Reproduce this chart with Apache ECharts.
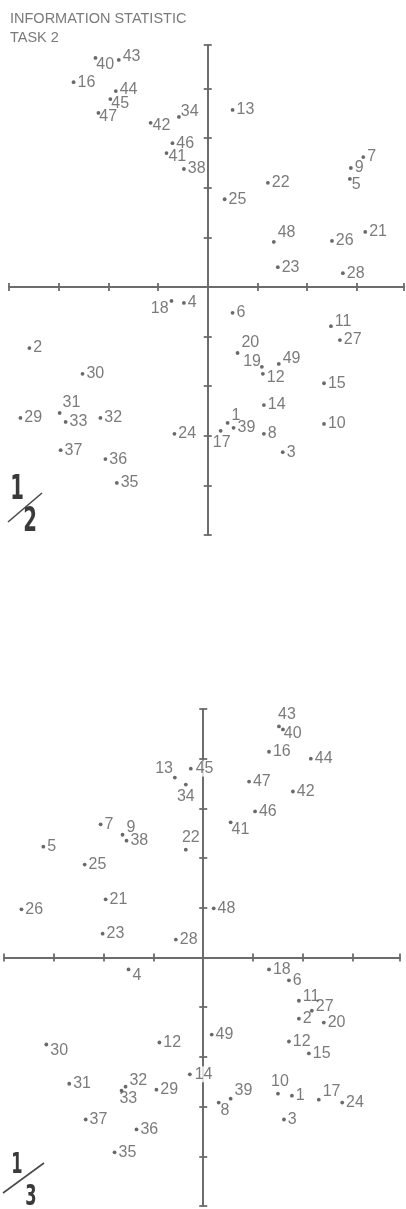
<!DOCTYPE html>
<html><head><meta charset="utf-8">
<script src="https://cdn.jsdelivr.net/npm/echarts@6/dist/echarts.min.js"></script>
<style>html,body{margin:0;padding:0;background:#fff;}#c{width:406px;height:1209px;}</style>
</head><body><div id="c"></div>
<script>
// ---------- DATA ----------
const titleLines = ['INFORMATION STATISTIC', 'TASK 2'];
const panelNames = ['1/2', '1/3'];

const p1Labels = ['1','2','3','4','5','6','7','8','9','10','11','12','13','14','15','16','17','18','19','20','21','22','23','24','25','26','27','28','29','30','31','32','33','34','35','36','37','38','39','40','41','42','43','44','45','46','47','48','49'];
const p1X = [0.40,-3.59,1.51,-0.48,2.86,0.50,3.13,1.13,2.88,2.34,2.48,1.11,0.50,1.13,2.34,-2.70,0.26,-0.73,1.09,0.60,3.17,1.21,1.41,-0.67,0.34,2.50,2.66,2.72,-3.77,-2.52,-2.98,-2.16,-2.86,-0.58,-1.83,-2.06,-2.96,-0.48,0.52,-2.26,-0.83,-1.15,-1.79,-1.85,-1.96,-0.71,-2.20,1.33,1.43];
const p1Y = [-2.74,-1.23,-3.33,-0.32,2.18,-0.52,2.62,-2.96,2.40,-2.76,-0.79,-1.75,3.57,-2.38,-1.94,4.13,-2.90,-0.28,-1.61,-1.33,1.11,2.10,0.40,-2.96,1.77,0.93,-1.07,0.28,-2.64,-1.75,-2.54,-2.64,-2.72,3.43,-3.95,-3.47,-3.29,2.38,-2.84,4.62,2.70,3.31,4.58,3.95,3.79,2.90,3.51,0.91,-1.55];

const p2Labels = ['1','2','3','4','5','6','7','8','9','10','11','12','12','13','14','15','16','17','18','20','21','22','23','24','25','26','27','28','29','30','31','32','33','34','35','36','37','38','39','40','41','42','43','44','45','46','47','48','49'];
const p2X = [1.78,1.92,1.62,-1.50,-3.21,1.72,-2.06,0.31,-1.62,1.50,1.92,-0.88,1.72,-0.57,-0.27,2.12,1.32,2.32,1.32,2.42,-1.96,-0.35,-2.02,2.79,-2.38,-3.65,2.18,-0.55,-0.94,-3.15,-2.69,-1.56,-1.64,-0.35,-1.78,-1.34,-2.36,-1.54,0.55,1.60,0.55,1.80,1.52,2.16,-0.25,1.04,0.92,0.21,0.17];
const p2Y = [-2.78,-1.23,-3.26,-0.24,2.23,-0.46,2.68,-2.92,2.47,-2.74,-0.87,-1.71,-1.69,3.62,-2.35,-1.93,4.14,-2.86,-0.24,-1.31,1.17,2.17,0.48,-2.92,1.87,0.97,-1.07,0.36,-2.66,-1.75,-2.54,-2.60,-2.68,3.48,-3.92,-3.46,-3.26,2.35,-2.84,4.59,2.72,3.34,4.65,4.00,3.80,2.94,3.54,0.99,-1.55];

const xRange = [-4, 3.95];
const y1Range = [-5, 4.88];
const y2Range = [-5, 5];

// ---------- STYLE (label placement tweaks) ----------
const p1Place = {
  '40':{dx:-3,dy:7}, '43':{dy:-3}, '44':{dy:-2}, '45':{dx:-3,dy:5}, '47':{dx:-3,dy:4},
  '42':{dx:-2,dy:3}, '34':{dx:-2,dy:-5}, '41':{dx:-2,dy:3}, '5':{dx:-2,dy:6},
  '48':{dy:-9}, '18':{pos:'left',dx:1,dy:8}, '31':{dx:-1,dy:-10}, '20':{dy:-10},
  '19':{pos:'left',dx:3,dy:-5}, '49':{dy:-5}, '12':{dy:4}, '11':{dy:-5}, '1':{dy:-7},
  '17':{pos:'bottom',dx:1,dy:0}
};
const p2Place = {
  '43':{pos:'top',dx:8,dy:0}, '40':{dx:-3,dy:4}, '13':{pos:'left',dx:2,dy:-9},
  '34':{pos:'bottom',dx:0,dy:0}, '41':{dx:-3,dy:7}, '9':{dy:-7}, '22':{pos:'top',dx:5,dy:0},
  '4':{dy:6}, '11':{dy:-4}, '27':{dy:-4}, '30':{dy:6}, '32':{dy:-6}, '33':{dx:-6,dy:8},
  '39':{dy:-8}, '8':{dx:-2,dy:8}, '10':{pos:'top',dx:2,dy:0}, '17':{dy:-8},
  '45':{bg:true}, '14':{bg:true}
};

const FONT = "'Liberation Sans', Arial, sans-serif";
const TXT = '#5a5a5a';
const AX = '#6c6c6c';

function buildData(labels, xs, ys, place) {
  return labels.map((l, i) => {
    const s = place[l] || {};
    const label = {
      show: true, formatter: l, position: s.pos || 'right', distance: 2,
      offset: [s.dx || 0, s.dy || 0]
    };
    if (s.bg) { label.backgroundColor = '#fff'; label.padding = [0, 1]; }
    return { value: [xs[i], ys[i]], label: label };
  });
}

function axesFor(gi, yr) {
  const ls = { color: AX, width: 1.8 };
  const xa = [false, true].map(inside => ({
    gridIndex: gi, type: 'value', min: xRange[0], max: xRange[1], interval: 1,
    position: 'bottom',
    axisLine: { show: true, onZero: true, lineStyle: ls },
    axisTick: { show: true, inside: inside, length: 4, lineStyle: ls },
    axisLabel: { show: false }, splitLine: { show: false }
  }));
  const ya = [false, true].map(inside => ({
    gridIndex: gi, type: 'value', min: yr[0], max: yr[1], interval: 1,
    position: 'left',
    axisLine: { show: true, onZero: true, lineStyle: ls },
    axisTick: { show: true, inside: inside, length: 4, lineStyle: ls },
    axisLabel: { show: false }, splitLine: { show: false }
  }));
  return { xa, ya };
}

const a1 = axesFor(0, y1Range);
const a2 = axesFor(1, y2Range);

const chart = echarts.init(document.getElementById('c'), null, { renderer: 'canvas' });
const seriesBase = {
  type: 'scatter', symbol: 'circle', symbolSize: 3.8,
  itemStyle: { color: '#444' },
  label: { color: TXT, fontSize: 16, fontFamily: FONT },
  emphasis: { disabled: true }, animation: false
};

const FRAC_FONT = "'DejaVu Sans', sans-serif";
function digit(cx, cy, txt, size) {
  return { type: 'text', x: cx, y: cy, scaleX: 0.58, scaleY: 1,
    style: { x: 0, y: 0, text: txt, align: 'center', verticalAlign: 'middle',
      font: 'bold ' + size + 'px ' + FRAC_FONT, fill: '#3a3a3a' } };
}
function frac(topC, botC, size, slash, parts) {
  return [
    digit(topC[0], topC[1], parts[0], size),
    { type: 'line', shape: slash, style: { stroke: '#4a4a4a', lineWidth: 1.6 } },
    digit(botC[0], botC[1], parts[1], size)
  ];
}

const p1f = panelNames[0].split('/');
const p2f = panelNames[1].split('/');

chart.setOption({
  animation: false,
  backgroundColor: '#fff',
  grid: [
    { left: 9, width: 395, top: 45, height: 490 },
    { left: 4, width: 396, top: 709, height: 497 }
  ],
  xAxis: a1.xa.concat(a2.xa),
  yAxis: a1.ya.concat(a2.ya),
  graphic: [
    { type: 'text', left: 10, top: 11, style: { text: titleLines[0], font: "14.5px " + FONT, fill: '#7a7a7a' } },
    { type: 'text', left: 10, top: 30, style: { text: titleLines[1], font: "14.5px " + FONT, fill: '#7a7a7a' } }
  ].concat(frac([17, 490], [30, 522], 34, { x1: 8, y1: 522, x2: 42, y2: 493 }, p1f))
   .concat(frac([17, 1166], [31, 1198], 28, { x1: 3, y1: 1193, x2: 44, y2: 1163 }, p2f)),
  series: [
    Object.assign({}, seriesBase, { xAxisIndex: 0, yAxisIndex: 0, data: buildData(p1Labels, p1X, p1Y, p1Place) }),
    Object.assign({}, seriesBase, { xAxisIndex: 2, yAxisIndex: 2, data: buildData(p2Labels, p2X, p2Y, p2Place) })
  ]
});
</script></body></html>
